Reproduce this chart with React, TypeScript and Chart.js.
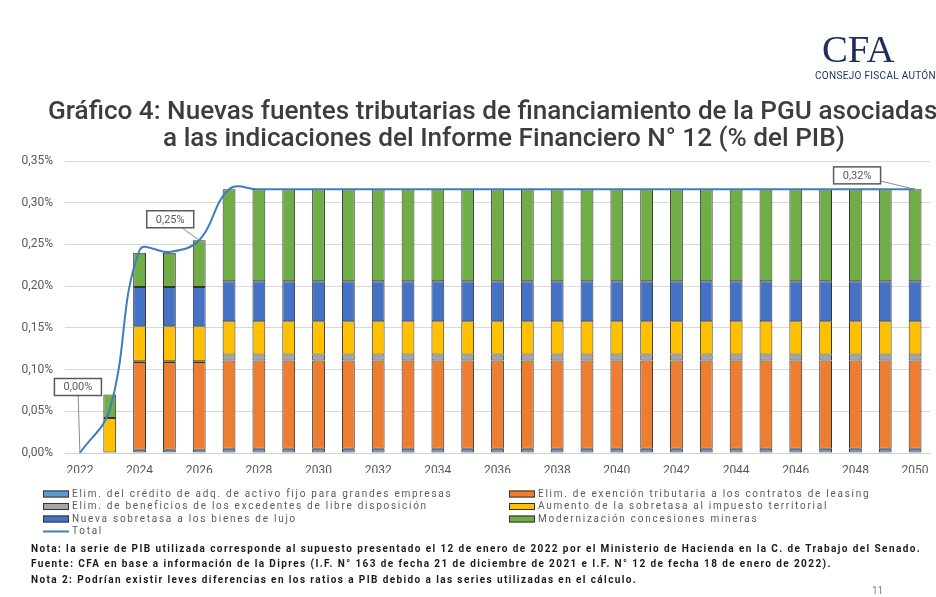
import { useEffect, useRef } from "react";
import { Chart, registerables } from "chart.js";

Chart.register(...registerables);

// ---------- DATA ----------
const years = [
  "2022", "2023", "2024", "2025", "2026", "2027", "2028", "2029", "2030", "2031",
  "2032", "2033", "2034", "2035", "2036", "2037", "2038", "2039", "2040", "2041",
  "2042", "2043", "2044", "2045", "2046", "2047", "2048", "2049", "2050",
];

// % del PIB
const creditoActivoFijo = [
  0, 0, 0.004, 0.004, 0.004, 0.005, 0.005, 0.005, 0.005, 0.005,
  0.005, 0.005, 0.005, 0.005, 0.005, 0.005, 0.005, 0.005, 0.005, 0.005,
  0.005, 0.005, 0.005, 0.005, 0.005, 0.005, 0.005, 0.005, 0.005,
];
const exencionLeasing = [
  0, 0, 0.105, 0.105, 0.105, 0.106, 0.106, 0.106, 0.106, 0.106,
  0.106, 0.106, 0.106, 0.106, 0.106, 0.106, 0.106, 0.106, 0.106, 0.106,
  0.106, 0.106, 0.106, 0.106, 0.106, 0.106, 0.106, 0.106, 0.106,
];
const beneficiosExcedentes = [
  0, 0, 0.001, 0.001, 0.001, 0.007, 0.007, 0.007, 0.007, 0.007,
  0.007, 0.007, 0.007, 0.007, 0.007, 0.007, 0.007, 0.007, 0.007, 0.007,
  0.007, 0.007, 0.007, 0.007, 0.007, 0.007, 0.007, 0.007, 0.007,
];
const sobretasaTerritorial = [
  0, 0.042, 0.042, 0.042, 0.042, 0.04, 0.04, 0.04, 0.04, 0.04,
  0.04, 0.04, 0.04, 0.04, 0.04, 0.04, 0.04, 0.04, 0.04, 0.04,
  0.04, 0.04, 0.04, 0.04, 0.04, 0.04, 0.04, 0.04, 0.04,
];
const sobretasaLujo = [
  0, 0, 0.047, 0.047, 0.047, 0.048, 0.048, 0.048, 0.048, 0.048,
  0.048, 0.048, 0.048, 0.048, 0.048, 0.048, 0.048, 0.048, 0.048, 0.048,
  0.048, 0.048, 0.048, 0.048, 0.048, 0.048, 0.048, 0.048, 0.048,
];
const concesionesMineras = [
  0, 0.028, 0.041, 0.041, 0.056, 0.11, 0.11, 0.11, 0.11, 0.11,
  0.11, 0.11, 0.11, 0.11, 0.11, 0.11, 0.11, 0.11, 0.11, 0.11,
  0.11, 0.11, 0.11, 0.11, 0.11, 0.11, 0.11, 0.11, 0.11,
];
const total = [
  0, 0.052, 0.243, 0.241, 0.255, 0.316, 0.316, 0.316, 0.316, 0.316,
  0.316, 0.316, 0.316, 0.316, 0.316, 0.316, 0.316, 0.316, 0.316, 0.316,
  0.316, 0.316, 0.316, 0.316, 0.316, 0.316, 0.316, 0.316, 0.316,
];

const yTicks = ["0,00%", "0,05%", "0,10%", "0,15%", "0,20%", "0,25%", "0,30%", "0,35%"];

const calloutYears = ["2022", "2026", "2050"];
const calloutLabels = ["0,00%", "0,25%", "0,32%"];

const titleLines = [
  "Gráfico 4: Nuevas fuentes tributarias de financiamiento de la PGU asociadas",
  "a las indicaciones del Informe Financiero N° 12 (% del PIB)",
];

const footnotes = [
  "Nota: la serie de PIB utilizada corresponde al supuesto presentado el 12 de enero de 2022 por el Ministerio de Hacienda en la C. de Trabajo del Senado.",
  "Fuente: CFA en base a información de la Dipres (I.F. N° 163 de fecha 21 de diciembre de 2021 e I.F. N° 12 de fecha 18 de enero de 2022).",
  "Nota 2: Podrían existir leves diferencias en los ratios a PIB debido a las series utilizadas en el cálculo.",
];

const seriesLabels = [
  "Elim. del crédito de adq. de activo fijo para grandes empresas",
  "Elim. de exención tributaria a los contratos de leasing",
  "Elim. de beneficios de los excedentes de libre disposición",
  "Aumento de la sobretasa al impuesto territorial",
  "Nueva sobretasa a los bienes de lujo",
  "Modernización concesiones mineras",
  "Total",
];

// ---------- STYLE ----------
const COLORS = ["#5B9BD5", "#ED7D31", "#A5A5A5", "#FFC000", "#4472C4", "#70AD47"];
const LINE_COLOR = "#3F7DBC";
const BAR_BORDER = "#333333";
const FONT = "Roboto, 'Liberation Sans', sans-serif";

function fitSize(ctx: CanvasRenderingContext2D, text: string, width: number, weight: string) {
  ctx.font = `${weight} 100px ${FONT}`;
  (ctx as any).letterSpacing = "0px";
  const w = ctx.measureText(text).width;
  return (100 * width) / w;
}

// set font and compute letter spacing so that `text` spans `width`
function fitSpacing(ctx: CanvasRenderingContext2D, text: string, width: number, weight: string, size: number) {
  ctx.font = `${weight} ${size}px ${FONT}`;
  (ctx as any).letterSpacing = "0px";
  const w = ctx.measureText(text).width;
  return Math.max(0, (width - w) / text.length);
}

const decorPlugin = {
  id: "decor",
  afterDraw(chart: any) {
    const ctx: CanvasRenderingContext2D = chart.ctx;
    ctx.save();

    // Logo
    ctx.fillStyle = "#1F2D5C";
    ctx.textBaseline = "alphabetic";
    ctx.textAlign = "left";
    const cfaSize = fitSize(ctx, "CFA", 68, "300");
    ctx.font = `300 ${cfaSize}px 'Liberation Serif', serif`;
    ctx.fillText("CFA", 822, 62);
    const subSp = fitSpacing(ctx, "CONSEJO FISCAL AUTÓN", 121, "400", 10);
    ctx.font = `400 10px ${FONT}`;
    (ctx as any).letterSpacing = `${subSp}px`;
    ctx.fillText("CONSEJO FISCAL AUTÓNOMO", 815, 79);
    (ctx as any).letterSpacing = "0px";

    // Title
    ctx.fillStyle = "#3d3d3d";
    ctx.textBaseline = "alphabetic";
    const tSize = Math.min(
      fitSize(ctx, titleLines[1], 682, "500"),
      fitSize(ctx, titleLines[0], 912, "500")
    );
    ctx.font = `500 ${tSize}px ${FONT}`;
    ctx.textAlign = "left";
    ctx.fillText(titleLines[0], 48, 119);
    ctx.textAlign = "center";
    ctx.fillText(titleLines[1], 504, 146);

    // Legend
    const barSets = chart.data.datasets.filter((d: any) => d.type !== "line");
    const lineSet = chart.data.datasets.find((d: any) => d.type === "line");
    const LSIZE = 10;
    const lSp = fitSpacing(ctx, barSets[0].label, 380, "400", LSIZE);
    const rows = [494, 506.5, 519, 531.5];
    const cols = [43, 509];
    ctx.textAlign = "left";
    ctx.textBaseline = "middle";
    barSets.forEach((d: any, i: number) => {
      const col = i % 2;
      const row = Math.floor(i / 2);
      const x = cols[col];
      const y = rows[row];
      ctx.fillStyle = d.backgroundColor;
      ctx.fillRect(x, y - 3.5, 26, 7);
      ctx.strokeStyle = BAR_BORDER;
      ctx.lineWidth = 1;
      ctx.strokeRect(x + 0.5, y - 3, 25, 6);
      ctx.fillStyle = "#595959";
      ctx.font = `400 ${LSIZE}px ${FONT}`;
      (ctx as any).letterSpacing = `${lSp}px`;
      ctx.fillText(d.label, x + 29, y);
      (ctx as any).letterSpacing = "0px";
    });
    if (lineSet) {
      const y = rows[3];
      ctx.strokeStyle = LINE_COLOR;
      ctx.lineWidth = 2;
      ctx.beginPath();
      ctx.moveTo(cols[0], y);
      ctx.lineTo(cols[0] + 26, y);
      ctx.stroke();
      ctx.fillStyle = "#595959";
      ctx.font = `400 ${LSIZE}px ${FONT}`;
      (ctx as any).letterSpacing = `${lSp}px`;
      ctx.fillText(lineSet.label, cols[0] + 29, y);
      (ctx as any).letterSpacing = "0px";
    }

    // Footnotes
    const FSIZE = 10;
    const fSp = fitSpacing(ctx, footnotes[0], 890, "700", FSIZE);
    ctx.font = `700 ${FSIZE}px ${FONT}`;
    ctx.fillStyle = "#1a1a1a";
    (ctx as any).letterSpacing = `${fSp}px`;
    const fy = [549, 564.5, 580];
    footnotes.forEach((t, i) => ctx.fillText(t, 31, fy[i]));
    (ctx as any).letterSpacing = "0px";
    ctx.font = `400 ${FSIZE}px ${FONT}`;
    ctx.fillStyle = "#7f7f7f";
    ctx.fillText("11", 872, 591);

    ctx.restore();
  },
  afterDatasetsDraw(chart: any) {
    const ctx: CanvasRenderingContext2D = chart.ctx;
    const xs = chart.scales.x;
    const ys = chart.scales.y;
    const offsets = [
      [-2, -66],
      [-29, -21],
      [-58, -14],
    ];
    ctx.save();
    calloutYears.forEach((yr, i) => {
      const idx = years.indexOf(yr);
      const px = xs.getPixelForValue(idx);
      const py = ys.getPixelForValue(total[idx]);
      const w = 47;
      const h = 17;
      const cx = px + offsets[i][0];
      const cy = py + offsets[i][1];
      const dx = px - cx;
      const dy = py - cy;
      const t = Math.min(Math.abs((w / 2) / (dx || 1e-6)), Math.abs((h / 2) / (dy || 1e-6)));
      ctx.strokeStyle = "#8c8c8c";
      ctx.lineWidth = 1;
      ctx.beginPath();
      ctx.moveTo(cx + dx * t, cy + dy * t);
      ctx.lineTo(px, py);
      ctx.stroke();
      ctx.fillStyle = "#ffffff";
      ctx.fillRect(cx - w / 2, cy - h / 2, w, h);
      ctx.strokeStyle = "#5a5a5a";
      ctx.lineWidth = 1.5;
      ctx.strokeRect(cx - w / 2, cy - h / 2, w, h);
      ctx.fillStyle = "#595959";
      ctx.font = `400 11px ${FONT}`;
      ctx.textAlign = "center";
      ctx.textBaseline = "middle";
      ctx.fillText(calloutLabels[i], cx, cy + 0.5);
    });
    ctx.restore();
  },
};

export default function App() {
  const ref = useRef<HTMLCanvasElement>(null);

  useEffect(() => {
    const canvas = ref.current;
    if (!canvas) return;
    const barSeries = [
      creditoActivoFijo,
      exencionLeasing,
      beneficiosExcedentes,
      sobretasaTerritorial,
      sobretasaLujo,
      concesionesMineras,
    ];
    const barDatasets = barSeries.map((arr, i) => ({
      type: "bar" as const,
      label: seriesLabels[i],
      data: arr,
      backgroundColor: COLORS[i],
      borderColor: BAR_BORDER,
      borderWidth: (c: any) => (c.raw ? 1 : 0),
      borderSkipped: false,
      order: 1,
      categoryPercentage: 1,
      barPercentage: 0.43,
    }));

    const chart = new Chart(canvas, {
      type: "bar",
      data: {
        labels: years,
        datasets: [
          {
            type: "line" as const,
            label: seriesLabels[6],
            data: total,
            borderColor: LINE_COLOR,
            backgroundColor: LINE_COLOR,
            borderWidth: 2,
            pointRadius: 0,
            tension: 0.4,
            fill: false,
            order: 0,
            stack: "line",
          } as any,
          ...(barDatasets as any[]),
        ],
      },
      options: {
        responsive: false,
        animation: false,
        devicePixelRatio: 1,
        layout: { padding: { left: 0, right: 6, top: 161, bottom: 124 } },
        plugins: {
          legend: { display: false },
          tooltip: { enabled: false },
          title: { display: false },
        },
        scales: {
          x: {
            stacked: true,
            grid: { display: false },
            border: { display: true, color: "#d0d0d0", width: 1 },
            ticks: {
              autoSkip: false,
              maxRotation: 0,
              minRotation: 0,
              padding: 3,
              color: "#595959",
              font: { family: FONT, size: 12 },
              callback: (_v: any, i: number) => (i % 2 === 0 ? years[i] : ""),
            },
            afterFit: (s: any) => {
              s.height = 20;
            },
          },
          y: {
            stacked: true,
            min: 0,
            max: 0.35,
            grid: { color: "#d9d9d9", drawTicks: false },
            border: { display: false },
            ticks: {
              stepSize: 0.05,
              padding: 12,
              color: "#595959",
              font: { family: FONT, size: 12 },
              callback: (_v: any, i: number) => yTicks[i],
            },
            afterFit: (s: any) => {
              s.width = 65;
            },
          },
        },
      },
      plugins: [decorPlugin],
    });
    return () => chart.destroy();
  }, []);

  return (
    <div style={{ position: "fixed", left: 0, top: 0, width: 936, height: 597, background: "#ffffff" }}>
      <canvas ref={ref} width={936} height={597} style={{ display: "block", width: 936, height: 597 }} />
    </div>
  );
}
